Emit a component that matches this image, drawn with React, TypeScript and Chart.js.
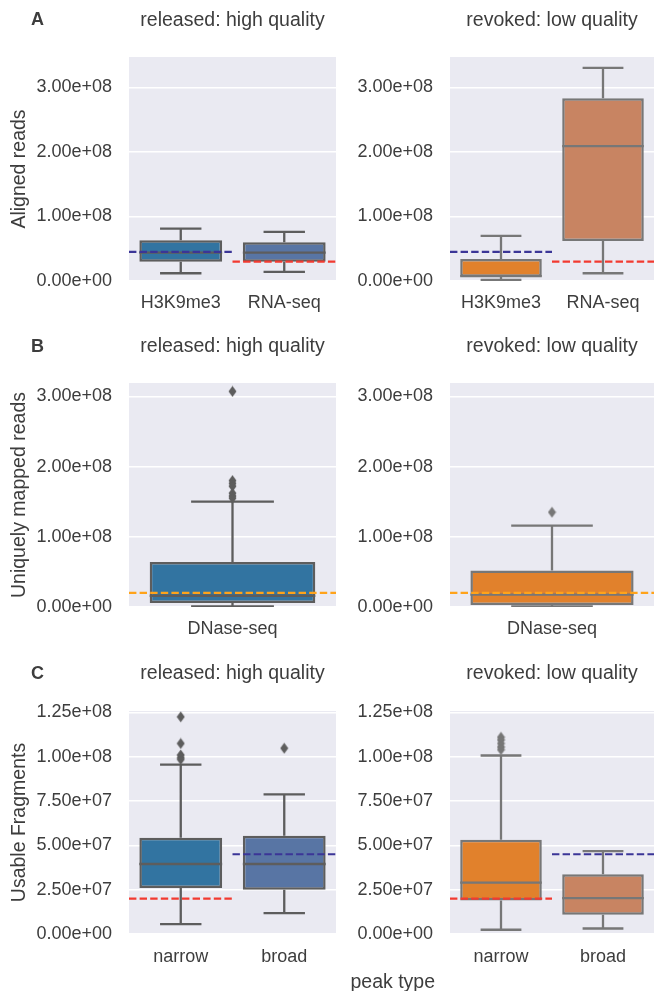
import React, { useEffect, useRef } from "react";
import { Chart, registerables } from "chart.js";
Chart.register(...registerables);

const FONT = "'Liberation Sans', Arial, Helvetica, sans-serif";
const TEXT = "#3d3d3d";
const BG = "#EAEAF2";
const NAVY = "#3b3597";
const RED = "#f23a30";
const ORANGE = "#ffa31a";

// ---------- Row A: Aligned reads ----------
const catsA = ["H3K9me3", "RNA-seq"];
const relA_low = [0.12e8, 0.14e8];
const relA_q1 = [0.3e8, 0.3e8];
const relA_med = [0.44e8, 0.44e8];
const relA_q3 = [0.63e8, 0.6e8];
const relA_high = [0.81e8, 0.76e8];
const relA_out: number[][] = [[], []];
const revA_low = [0.016e8, 0.12e8];
const revA_q1 = [0.067e8, 0.62e8];
const revA_med = [0.075e8, 2.09e8];
const revA_q3 = [0.34e8, 2.83e8];
const revA_high = [0.7e8, 3.3e8];
const revA_out: number[][] = [[], []];
const threshA = [4.5e7, 3.0e7];
const threshColorsA = [NAVY, RED];
const yTicksA = [0, 1e8, 2e8, 3e8];
const yMaxA = 3.47e8;

// ---------- Row B: Uniquely mapped reads ----------
const catsB = ["DNase-seq"];
const relB_low = [0.01e8];
const relB_q1 = [0.057e8];
const relB_med = [0.16e8];
const relB_q3 = [0.64e8];
const relB_high = [1.5e8];
const relB_out = [[3.07e8, 1.8e8, 1.76e8, 1.72e8, 1.62e8, 1.58e8, 1.55e8]];
const revB_low = [0.01e8];
const revB_q1 = [0.03e8];
const revB_med = [0.175e8];
const revB_q3 = [0.52e8];
const revB_high = [1.16e8];
const revB_out = [[1.35e8]];
const threshB = [2.0e7];
const threshColorsB = [ORANGE];
const yTicksB = [0, 1e8, 2e8, 3e8];
const yMaxB = 3.19e8;

// ---------- Row C: Usable Fragments ----------
const catsC = ["narrow", "broad"];
const relC_low = [0.56e7, 1.18e7];
const relC_q1 = [2.6e7, 2.49e7];
const relC_med = [3.95e7, 3.95e7];
const relC_q3 = [5.43e7, 5.54e7];
const relC_high = [9.55e7, 7.88e7];
const relC_out = [[12.25e7, 10.75e7, 10.1e7, 9.95e7, 9.85e7], [10.48e7]];
const revC_low = [0.24e7, 0.31e7];
const revC_q1 = [1.89e7, 1.08e7];
const revC_med = [2.9e7, 2.02e7];
const revC_q3 = [5.31e7, 3.37e7];
const revC_high = [10.07e7, 4.68e7];
const revC_out = [[11.1e7, 10.95e7, 10.75e7, 10.55e7, 10.4e7], []];
const threshC = [2.0e7, 4.5e7];
const threshColorsC = [RED, NAVY];
const yTicksC = [0, 2.5e7, 5e7, 7.5e7, 1e8, 1.25e8];
const yMaxC = 1.258e8;

const BLUE1 = "#3274A1";
const BLUE2 = "#5875A4";
const ORANGE1 = "#E1812C";
const ORANGE2 = "#C88462";
const GRAY_DARK = "#5d5d5d";
const GRAY_LIGHT = "#777777";

function sci(v: number): string {
  if (v === 0) return "0.00e+00";
  const e = Math.floor(Math.log10(Math.abs(v)) + 1e-9);
  const m = v / Math.pow(10, e);
  return m.toFixed(2) + "e+" + String(e).padStart(2, "0");
}

type Geo = {
  left: number; top: number; width: number; height: number;
  axisWidth: number; padRight: number;
  titleCenter: number; plotTop: number; plotBottom: number; labelGap: number;
};

type PanelProps = {
  cats: string[];
  low: number[]; q1: number[]; med: number[]; q3: number[]; high: number[];
  out: number[][];
  colors: string[];
  lineColor: string;
  thresh: number[];
  threshColors: string[];
  yMax: number;
  yTicks: number[];
  title: string;
  yLabel?: string;
  geo: Geo;
};

const bgPlugin = {
  id: "bgPlot",
  beforeDraw(chart: any) {
    const { ctx, chartArea } = chart;
    if (!chartArea) return;
    ctx.save();
    ctx.fillStyle = BG;
    ctx.fillRect(chartArea.left, chartArea.top, chartArea.right - chartArea.left, chartArea.bottom - chartArea.top);
    ctx.restore();
  },
};

function Panel(p: PanelProps) {
  const ref = useRef<HTMLCanvasElement | null>(null);
  useEffect(() => {
    const canvas = ref.current;
    if (!canvas) return;
    const g = p.geo;
    const titleLH = 19.5 * 1.2;
    const tickLH = 18 * 1.2;

    // diamond marker
    const dm = document.createElement("canvas");
    dm.width = 9;
    dm.height = 12;
    const dctx = dm.getContext("2d")!;
    dctx.fillStyle = p.lineColor;
    dctx.beginPath();
    dctx.moveTo(4.5, 0.5);
    dctx.lineTo(8.5, 6);
    dctx.lineTo(4.5, 11.5);
    dctx.lineTo(0.5, 6);
    dctx.closePath();
    dctx.fill();

    const n = p.cats.length;
    const boxData = p.cats.map((_, i) => ({ x: i, y: [p.q1[i], p.q3[i]] }));
    const linePts: any[] = [];
    p.cats.forEach((_, i) => {
      linePts.push({ x: i, y: p.q3[i] }, { x: i, y: p.high[i] }, { x: i, y: null });
      linePts.push({ x: i, y: p.q1[i] }, { x: i, y: p.low[i] }, { x: i, y: null });
      linePts.push({ x: i - 0.2, y: p.high[i] }, { x: i + 0.2, y: p.high[i] }, { x: i, y: null });
      linePts.push({ x: i - 0.2, y: p.low[i] }, { x: i + 0.2, y: p.low[i] }, { x: i, y: null });
      linePts.push({ x: i - 0.4, y: p.med[i] }, { x: i + 0.4, y: p.med[i] }, { x: i, y: null });
    });
    const outPts: any[] = [];
    p.out.forEach((arr, i) => arr.forEach((v) => outPts.push({ x: i, y: v })));

    const threshSets = p.thresh.map((v, i) => ({
      type: "line",
      data: [{ x: i - 0.5, y: v }, { x: i + 0.5, y: v }],
      borderColor: p.threshColors[i],
      borderWidth: 2.2,
      borderDash: [7.4, 3.2],
      pointRadius: 0,
      fill: false,
      order: 0,
    }));

    const chart = new Chart(canvas, {
      type: "bar",
      data: {
        datasets: [
          ...threshSets,
          {
            type: "line",
            data: outPts,
            showLine: false,
            pointStyle: dm,
            pointRadius: 5,
            order: 1,
          },
          {
            type: "line",
            data: linePts,
            borderColor: p.lineColor,
            borderWidth: 2.3,
            pointRadius: 0,
            spanGaps: false,
            fill: false,
            tension: 0,
            order: 2,
          },
          {
            type: "bar",
            data: boxData,
            backgroundColor: p.colors,
            borderColor: p.lineColor,
            borderWidth: 2.5,
            borderSkipped: false,
            barPercentage: 0.8,
            categoryPercentage: 1,
            order: 3,
          },
        ] as any,
      },
      options: {
        animation: false,
        responsive: false,
        devicePixelRatio: 1,
        layout: { padding: { left: 0, right: g.padRight, top: 0, bottom: 0 }, autoPadding: false },
        plugins: {
          legend: { display: false },
          tooltip: { enabled: false },
          title: {
            display: true,
            text: p.title,
            color: TEXT,
            fullSize: false,
            font: { family: FONT, size: 19.5, weight: "normal" },
            padding: {
              top: g.titleCenter - g.top - titleLH / 2,
              bottom: g.plotTop - g.titleCenter - titleLH / 2,
            },
          },
        },
        scales: {
          x: {
            type: "linear",
            min: -0.5,
            max: n - 0.5,
            offset: false,
            grid: { display: false, drawTicks: false, offset: false },
            border: { display: false },
            afterBuildTicks: (s: any) => {
              s.ticks = p.cats.map((_, i) => ({ value: i }));
            },
            afterFit: (s: any) => {
              s.height = g.top + g.height - g.plotBottom;
            },
            ticks: {
              callback: (v: any) => p.cats[Math.round(Number(v))] ?? "",
              color: TEXT,
              font: { family: FONT, size: 18 },
              padding: g.labelGap - tickLH / 2,
              maxRotation: 0,
              autoSkip: false,
            },
          },
          y: {
            type: "linear",
            min: 0,
            max: p.yMax,
            grid: { color: "#ffffff", lineWidth: 1.5, drawTicks: false },
            border: { display: false },
            afterBuildTicks: (s: any) => {
              s.ticks = p.yTicks.map((v) => ({ value: v }));
            },
            afterFit: (s: any) => {
              s.width = g.axisWidth;
            },
            ticks: {
              callback: (v: any) => sci(Number(v)),
              color: TEXT,
              font: { family: FONT, size: 18 },
              padding: 17,
            },
            title: {
              display: !!p.yLabel,
              text: p.yLabel || "",
              color: TEXT,
              font: { family: FONT, size: 19.5 },
              padding: { top: 8, bottom: 0 },
            },
          },
        },
      } as any,
      plugins: [bgPlugin],
    });
    return () => chart.destroy();
  }, []);
  const g = p.geo;
  return (
    <canvas
      ref={ref}
      width={g.width}
      height={g.height}
      style={{ position: "absolute", left: g.left, top: g.top, width: g.width, height: g.height }}
    />
  );
}

const colL = { left: 0, width: 340, axisWidth: 129, padRight: 4 };
const colR = { left: 340, width: 314, axisWidth: 110, padRight: 0 };
const rowA = { top: 0, height: 318, titleCenter: 21, plotTop: 57, plotBottom: 281, labelGap: 22 };
const rowB = { top: 318, height: 330, titleCenter: 347, plotTop: 383, plotBottom: 607, labelGap: 22 };
const rowC = { top: 648, height: 343, titleCenter: 674, plotTop: 711, plotBottom: 934, labelGap: 23 };

const letterStyle = (top: number): React.CSSProperties => ({
  position: "absolute",
  left: 31,
  top: top - 11,
  fontFamily: FONT,
  fontWeight: "bold",
  fontSize: 18,
  lineHeight: "22px",
  color: TEXT,
});

export default function App() {
  return (
    <div style={{ position: "absolute", left: 0, top: 0, width: 654, height: 991, overflow: "hidden", background: "#fff" }}>
      <Panel cats={catsA} low={relA_low} q1={relA_q1} med={relA_med} q3={relA_q3} high={relA_high} out={relA_out}
        colors={[BLUE1, BLUE2]} lineColor={GRAY_DARK} thresh={threshA} threshColors={threshColorsA}
        yMax={yMaxA} yTicks={yTicksA} title="released: high quality" yLabel="Aligned reads" geo={{ ...colL, ...rowA }} />
      <Panel cats={catsA} low={revA_low} q1={revA_q1} med={revA_med} q3={revA_q3} high={revA_high} out={revA_out}
        colors={[ORANGE1, ORANGE2]} lineColor={GRAY_LIGHT} thresh={threshA} threshColors={threshColorsA}
        yMax={yMaxA} yTicks={yTicksA} title="revoked: low quality" geo={{ ...colR, ...rowA }} />
      <Panel cats={catsB} low={relB_low} q1={relB_q1} med={relB_med} q3={relB_q3} high={relB_high} out={relB_out}
        colors={[BLUE1]} lineColor={GRAY_DARK} thresh={threshB} threshColors={threshColorsB}
        yMax={yMaxB} yTicks={yTicksB} title="released: high quality" yLabel="Uniquely mapped reads" geo={{ ...colL, ...rowB }} />
      <Panel cats={catsB} low={revB_low} q1={revB_q1} med={revB_med} q3={revB_q3} high={revB_high} out={revB_out}
        colors={[ORANGE1]} lineColor={GRAY_LIGHT} thresh={threshB} threshColors={threshColorsB}
        yMax={yMaxB} yTicks={yTicksB} title="revoked: low quality" geo={{ ...colR, ...rowB }} />
      <Panel cats={catsC} low={relC_low} q1={relC_q1} med={relC_med} q3={relC_q3} high={relC_high} out={relC_out}
        colors={[BLUE1, BLUE2]} lineColor={GRAY_DARK} thresh={threshC} threshColors={threshColorsC}
        yMax={yMaxC} yTicks={yTicksC} title="released: high quality" yLabel="Usable Fragments" geo={{ ...colL, ...rowC }} />
      <Panel cats={catsC} low={revC_low} q1={revC_q1} med={revC_med} q3={revC_q3} high={revC_high} out={revC_out}
        colors={[ORANGE1, ORANGE2]} lineColor={GRAY_LIGHT} thresh={threshC} threshColors={threshColorsC}
        yMax={yMaxC} yTicks={yTicksC} title="revoked: low quality" geo={{ ...colR, ...rowC }} />
      <div style={letterStyle(19)}>A</div>
      <div style={letterStyle(346)}>B</div>
      <div style={letterStyle(673)}>C</div>
      <div style={{ position: "absolute", left: 350.5, top: 982 - 11.7, fontFamily: FONT, fontSize: 19.5, lineHeight: "23.4px", color: TEXT, whiteSpace: "nowrap" }}>
        peak type
      </div>
    </div>
  );
}
